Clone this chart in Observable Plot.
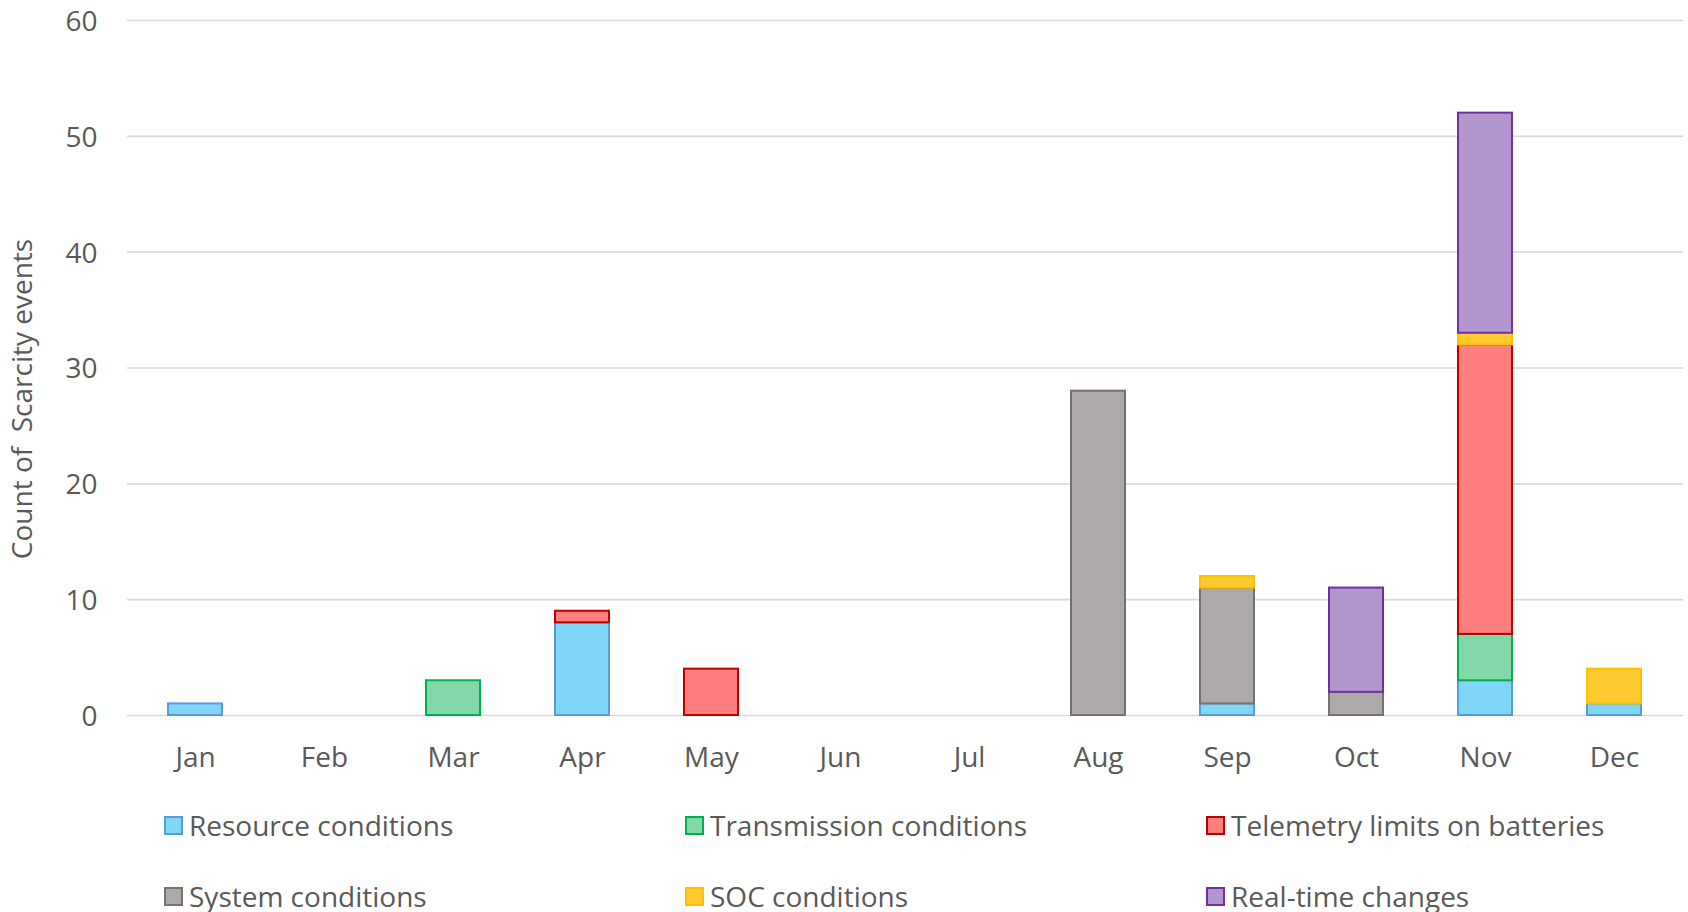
<!DOCTYPE html>
<html>
<head>
<meta charset="utf-8">
<script src="https://cdn.jsdelivr.net/npm/d3@7"></script>
<script src="https://cdn.jsdelivr.net/npm/@observablehq/plot@0.6"></script>
<style>
  html, body { margin: 0; padding: 0; background: #fff; }
  body { width: 1688px; height: 912px; position: relative; overflow: hidden; font-family: "Open Sans", "Noto Sans", sans-serif; }
  #chart { position: absolute; left: 0; top: 0; }
  .legend-item { position: absolute; display: flex; align-items: center; font-size: 28px; color: #595959; white-space: nowrap; }
  .sw { width: 15px; height: 15px; border: 2px solid; margin-right: 6px; }
</style>
</head>
<body>
<div id="chart"></div>
<div id="legend"></div>
<script>
const months = ["Jan","Feb","Mar","Apr","May","Jun","Jul","Aug","Sep","Oct","Nov","Dec"];
const seriesNames = ["Resource conditions","Transmission conditions","Telemetry limits on batteries","System conditions","SOC conditions","Real-time changes"];
const resource     = [1,0,0,8,0,0,0,0,1,0,3,1];
const transmission = [0,0,3,0,0,0,0,0,0,0,4,0];
const telemetry    = [0,0,0,1,4,0,0,0,0,0,25,0];
const system       = [0,0,0,0,0,0,0,28,10,2,0,0];
const soc          = [0,0,0,0,0,0,0,0,1,0,1,3];
const realtime     = [0,0,0,0,0,0,0,0,0,9,19,0];
const yTicks = [0,10,20,30,40,50,60];
const yLabel = "Count of  Scarcity events";
const fillColors   = ["#7FD6F7","#82D8A8","#FF7F7F","#ADA9A8","#FFCA30","#B496CE"];
const strokeColors = ["#5B9BD5","#00B050","#C00000","#767171","#FFC000","#7030A0"];

const seriesValues = [resource, transmission, telemetry, system, soc, realtime];
const data = [];
seriesNames.forEach((s, i) => {
  months.forEach((m, j) => {
    const v = seriesValues[i][j];
    if (v > 0) data.push({month: m, series: s, value: v, si: i});
  });
});

const chart = Plot.plot({
  width: 1688,
  height: 790,
  marginLeft: 127,
  marginRight: 5,
  marginTop: 20,
  marginBottom: 75,
  style: {fontFamily: '"Open Sans", "Noto Sans", sans-serif', fontSize: "28px", color: "#595959", background: "#fff"},
  x: {domain: months, paddingInner: 0.58, paddingOuter: 0.29, label: null},
  y: {domain: [0, 60], label: null},
  color: {type: "identity"},
  marks: [
    Plot.ruleY(yTicks, {stroke: "#D9D9D9", strokeWidth: 1.6}),
    Plot.axisY({ticks: yTicks, tickSize: 0, tickPadding: 30, fontSize: 28, fill: "#595959", label: null, dy: 1.5}),
    Plot.axisX({tickSize: 0, tickPadding: 32, fontSize: 28, fill: "#595959", label: null}),
    Plot.text([yLabel], {text: d => d, frameAnchor: "left", rotate: -90, dx: -104, dy: 31,
      fontSize: 28, fill: "#595959", textAnchor: "middle", lineAnchor: "middle"}),
    Plot.barY(data, {x: "month", y: "value", z: "series", order: seriesNames,
      fill: d => fillColors[d.si], stroke: d => strokeColors[d.si], strokeWidth: 2})
  ]
});
document.getElementById("chart").appendChild(chart);

const legendPos = [[164, 825],[685, 825],[1206, 825],[164, 896],[685, 896],[1206, 896]];
const legend = document.getElementById("legend");
seriesNames.forEach((s, i) => {
  const el = document.createElement("div");
  el.className = "legend-item";
  el.style.left = legendPos[i][0] + "px";
  el.style.top = (legendPos[i][1] - 19) + "px";
  el.innerHTML = `<div class="sw" style="background:${fillColors[i]};border-color:${strokeColors[i]}"></div><span>${s}</span>`;
  legend.appendChild(el);
});
</script>
</body>
</html>
